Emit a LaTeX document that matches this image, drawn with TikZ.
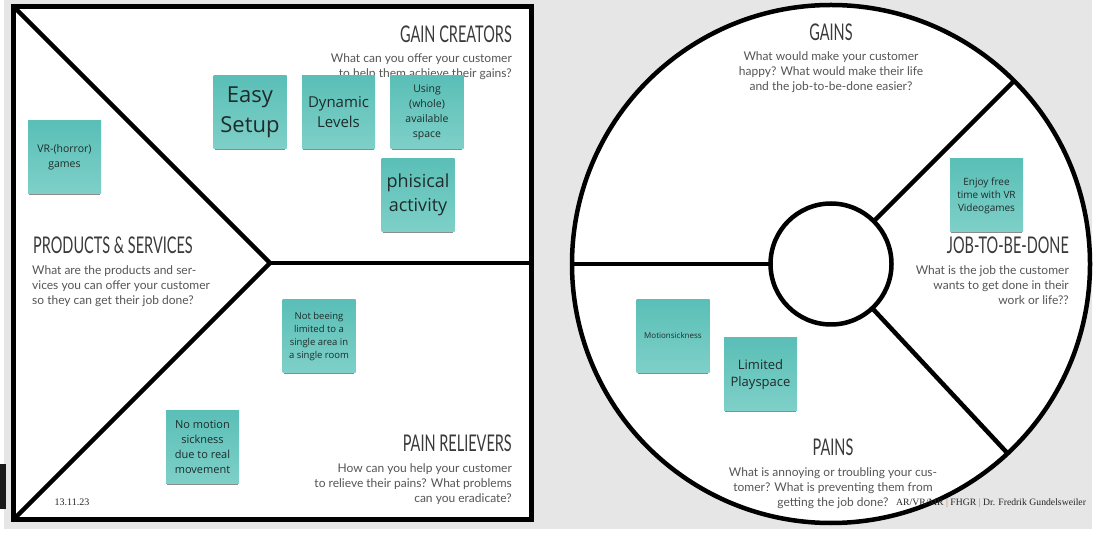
\documentclass[tikz,border=0pt]{standalone}
\usepackage{fontspec}
\setmainfont{Liberation Serif}
\newfontfamily\notefont{Open Sans}
\newfontfamily\askfont{Lato}
\newfontfamily\headfont[FakeStretch=0.63]{Lato}
\usetikzlibrary{shadows}
\definecolor{paper}{HTML}{E6E6E6}
\definecolor{notetop}{RGB}{90,191,183}
\definecolor{notebot}{RGB}{126,208,200}
\definecolor{notetxt}{HTML}{1F2B2A}
\definecolor{headtxt}{HTML}{3A3A3A}
\definecolor{asktxt}{HTML}{555555}
\definecolor{sepcol}{HTML}{C8783C}

\begin{document}
\begin{tikzpicture}[x=1pt, y=-1pt,
    note/.style={minimum width=73pt, minimum height=73pt, inner sep=1pt, align=center,
        top color=notetop, bottom color=notebot, text=notetxt,
        drop shadow={shadow xshift=0pt, shadow yshift=-2.5pt, shadow scale=0.97, opacity=0.45, fill=black}},
    head/.style={inner sep=0pt, text=headtxt, font=\headfont\fontsize{23}{23}\selectfont},
    ask/.style={inner sep=0pt, text=asktxt, font=\askfont\fontsize{12}{15}\selectfont},
    rule/.style={line width=4.5pt}]
    \useasboundingbox (0,0) rectangle (1098,534);

    % Achtergrond
    \fill[white] (0,0) rectangle (1098,534);
    \fill[paper] (4,0) rectangle (1092,529);
    \fill[black!90] (0,464) rectangle (6,509);

    % Linkerpaneel: value map
    \node[draw, line width=5pt, fill=white, outer sep=0pt, minimum width=517.5pt, minimum height=513pt] (board) at (272.25,263) {};
    \coordinate (tip) at (270,263);
    \draw[rule] (board.north west) -- (tip) -- (board.south west);
    \draw[rule] (tip) -- (board.east |- tip);

    % Rechterpaneel: klantprofiel
    \node[circle, draw, line width=4.5pt, fill=white, outer sep=0pt, minimum size=518pt] (rim) at (831,264) {};
    \node[circle, draw, line width=4.5pt, fill=white, outer sep=0pt, minimum size=121pt] (core) at (831,264) {};
    \draw[rule] (rim.west) -- (core.west);
    \draw[rule] (core.45) -- (rim.45);
    \draw[rule] (core.-47) -- (rim.-47);

    % Titels en vragen links
    \node[head, anchor=east] (gaincreators) at (512,34) {GAIN CREATORS};
    \node[ask, anchor=north east, align=right] (gaincreatorsask) at (512,53.5) {What can you offer your customer\\to help them achieve their gains?};
    \node[head, anchor=west] (products) at (33,245) {PRODUCTS \& SERVICES};
    \node[ask, anchor=north west, align=left] (productsask) at (32,265) {What are the products and ser-\\vices you can offer your customer\\so they can get their job done?};
    \node[head, anchor=east] (painrelievers) at (512,443) {PAIN RELIEVERS};
    \node[ask, anchor=north east, align=right] (painrelieversask) at (512,463.5) {How can you help your customer\\to relieve their pains? What problems\\can you eradicate?};

    % Titels en vragen rechts
    \node[head] (gains) at (831,32) {GAINS};
    \node[ask, anchor=north, align=center] (gainsask) at (831,51.5) {What would make your customer\\happy? What would make their life\\and the job-to-be-done easier?};
    \node[head, anchor=east] (job) at (1069,245) {JOB-TO-BE-DONE};
    \node[ask, anchor=north east, align=right] (jobask) at (1069,265) {What is the job the customer\\wants to get done in their\\work or life??};
    \node[head] (pains) at (833,447) {PAINS};
    \node[ask, anchor=north, align=center] (painsask) at (833,467) {What is annoying or troubling your cus-\\tomer? What is preventing them from\\getting the job done?};

    % Notities
    \node[note, font=\notefont\fontsize{10.5}{15}\selectfont] (vrgames) at (64.5,157.5) {VR-(horror)\\games};
    \node[note, font=\notefont\fontsize{22}{30}\selectfont] (easysetup) at (250,112.5) {Easy\\Setup};
    \node[note, font=\notefont\fontsize{15}{20}\selectfont] (dynlevels) at (338.5,112.5) {Dynamic\\Levels};
    \node[note, font=\notefont\fontsize{10.5}{15}\selectfont] (wholespace) at (427,112.5) {Using\\(whole)\\available\\space};
    \node[note, font=\notefont\fontsize{18}{24}\selectfont] (activity) at (418,195) {phisical\\activity};
    \node[note, font=\notefont\fontsize{9.5}{13}\selectfont] (notlimited) at (319,336.5) {Not beeing\\limited to a\\single area in\\a single room};
    \node[note, font=\notefont\fontsize{11}{15}\selectfont] (nomotion) at (202.5,447) {No motion\\sickness\\due to real\\movement};
    \node[note, font=\notefont\fontsize{10}{13}\selectfont] (freetime) at (986.5,195.5) {Enjoy free\\time with VR\\Videogames};
    \node[note, font=\notefont\fontsize{8}{10}\selectfont] (motionsick) at (673,336) {Motionsickness};
    \node[note, font=\notefont\fontsize{13}{16.5}\selectfont] (playspace) at (760.5,374.5) {Limited\\Playspace};

    % Voettekst
    \node[inner sep=0pt, text=black!85, font=\fontsize{10}{12}\selectfont] (date) at (72,502) {13.11.23};
    \node[anchor=west, inner sep=0pt, text=black!85, font=\fontsize{9.7}{11}\selectfont] (credit) at (896,503) {AR/VR/MR {\color{sepcol}|} FHGR {\color{sepcol}|} Dr. Fredrik Gundelsweiler};
\end{tikzpicture}
\end{document}
